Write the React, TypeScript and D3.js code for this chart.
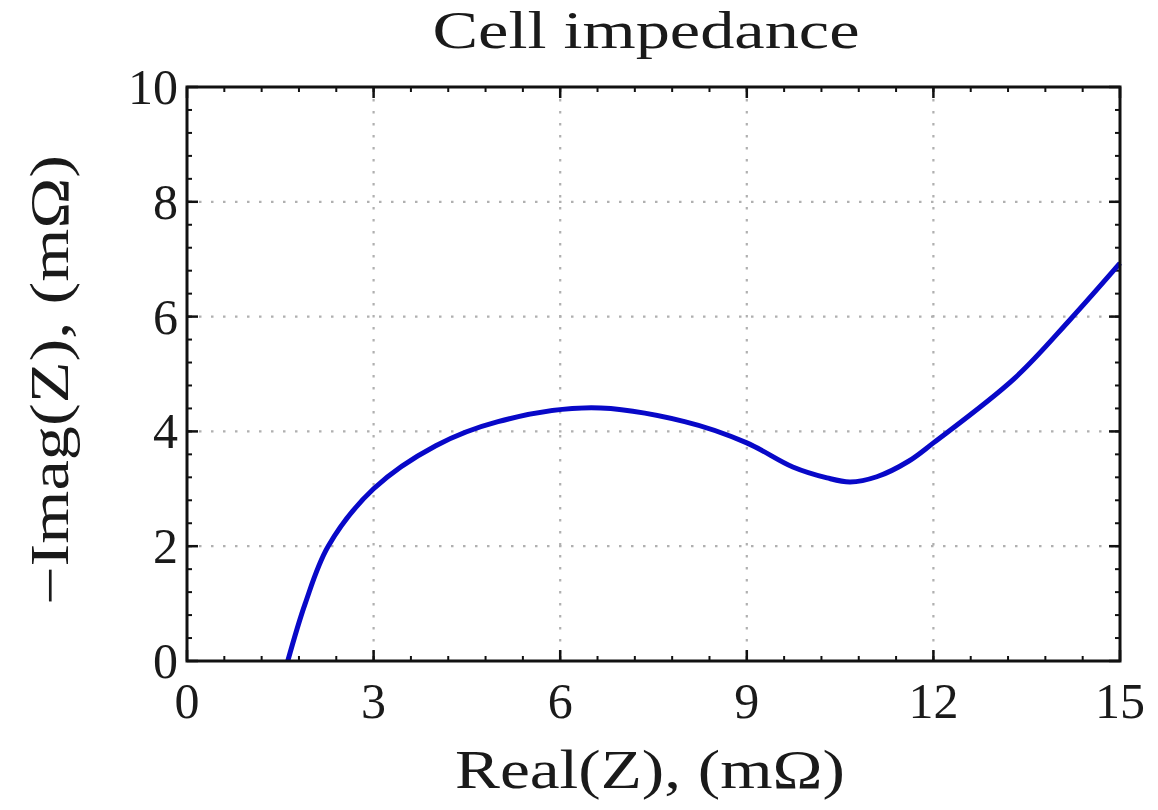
import React from "react";
import * as d3 from "d3";

const realZ = [1.62, 1.9, 2.27, 3.0, 4.0, 5.0, 6.5, 8.0, 9.0, 9.74, 10.29, 10.66, 11.09, 11.6, 12.0, 13.3, 14.2, 15.0];
const imagZ = [0.0, 1.0, 2.0, 3.0, 3.75, 4.17, 4.41, 4.17, 3.8, 3.38, 3.19, 3.12, 3.21, 3.48, 3.8, 4.92, 5.95, 6.93];
const xTicks = [0, 3, 6, 9, 12, 15];
const yTicks = [0, 2, 4, 6, 8, 10];
const xMinor = d3.range(0, 15.001, 0.6);
const yMinor = d3.range(0, 10.001, 0.4);

const W = 1158, H = 810;
const L = 187, R = 1120, T = 87, B = 661;
const FONT = "'Liberation Serif', 'DejaVu Serif', serif";

export default function App() {
  const x = d3.scaleLinear().domain([0, 15]).range([L, R]);
  const y = d3.scaleLinear().domain([0, 10]).range([B, T]);
  const pts = realZ.map((v, i) => [v, imagZ[i]] as [number, number]);
  const line = d3.line<[number, number]>().x(d => x(d[0])).y(d => y(d[1])).curve(d3.curveCatmullRom.alpha(0.5));
  const majLen = 11, minLen = 5;
  return (
    <svg width={W} height={H} style={{ position: "absolute", left: 0, top: 0, background: "#fff" }}>
      <rect x={0} y={0} width={W} height={H} fill="#fff" />
      {xTicks.filter(t => t > 0 && t < 15).map(t => (
        <line key={"gx" + t} x1={x(t)} x2={x(t)} y1={T} y2={B} stroke="#b0b0b0" strokeWidth={2.2} strokeDasharray="2.5,9.5" />
      ))}
      {yTicks.filter(t => t > 0 && t < 10).map(t => (
        <line key={"gy" + t} x1={L} x2={R} y1={y(t)} y2={y(t)} stroke="#b0b0b0" strokeWidth={2.2} strokeDasharray="2.5,9.5" />
      ))}
      {xMinor.map((t, i) => (
        <g key={"mx" + i}>
          <line x1={x(t)} x2={x(t)} y1={B} y2={B - minLen} stroke="#111" strokeWidth={2} />
          <line x1={x(t)} x2={x(t)} y1={T} y2={T + minLen} stroke="#111" strokeWidth={2} />
        </g>
      ))}
      {yMinor.map((t, i) => (
        <g key={"my" + i}>
          <line x1={L} x2={L + minLen} y1={y(t)} y2={y(t)} stroke="#111" strokeWidth={2} />
          <line x1={R} x2={R - minLen} y1={y(t)} y2={y(t)} stroke="#111" strokeWidth={2} />
        </g>
      ))}
      {xTicks.map(t => (
        <g key={"Mx" + t}>
          <line x1={x(t)} x2={x(t)} y1={B} y2={B - majLen} stroke="#111" strokeWidth={2.5} />
          <line x1={x(t)} x2={x(t)} y1={T} y2={T + majLen} stroke="#111" strokeWidth={2.5} />
        </g>
      ))}
      {yTicks.map(t => (
        <g key={"My" + t}>
          <line x1={L} x2={L + majLen} y1={y(t)} y2={y(t)} stroke="#111" strokeWidth={2.5} />
          <line x1={R} x2={R - majLen} y1={y(t)} y2={y(t)} stroke="#111" strokeWidth={2.5} />
        </g>
      ))}
      <path d={line(pts) || ""} fill="none" stroke="#0808c8" strokeWidth={5} strokeLinejoin="round" />
      <rect x={L} y={T} width={R - L} height={B - T} fill="none" stroke="#111" strokeWidth={3} />
      {xTicks.map(t => (
        <text key={"lx" + t} x={x(t)} y={718} textAnchor="middle" fontFamily={FONT} fontSize={50} fill="#1a1a1a">{t}</text>
      ))}
      {yTicks.map(t => (
        <text key={"ly" + t} x={178} y={y(t) + 17} textAnchor="end" fontFamily={FONT} fontSize={50} fill="#1a1a1a">{t}</text>
      ))}
      <text x={646} y={48} textAnchor="middle" fontFamily={FONT} fontSize={52} fill="#1a1a1a" textLength={427} lengthAdjust="spacingAndGlyphs">Cell impedance</text>
      <text x={650} y={788} textAnchor="middle" fontFamily={FONT} fontSize={54} fill="#1a1a1a" textLength={390} lengthAdjust="spacingAndGlyphs">Real(Z), (mΩ)</text>
      <text transform="translate(68,380) rotate(-90)" textAnchor="middle" fontFamily={FONT} fontSize={54} fill="#1a1a1a" textLength={450} lengthAdjust="spacingAndGlyphs">−Imag(Z), (mΩ)</text>
    </svg>
  );
}
